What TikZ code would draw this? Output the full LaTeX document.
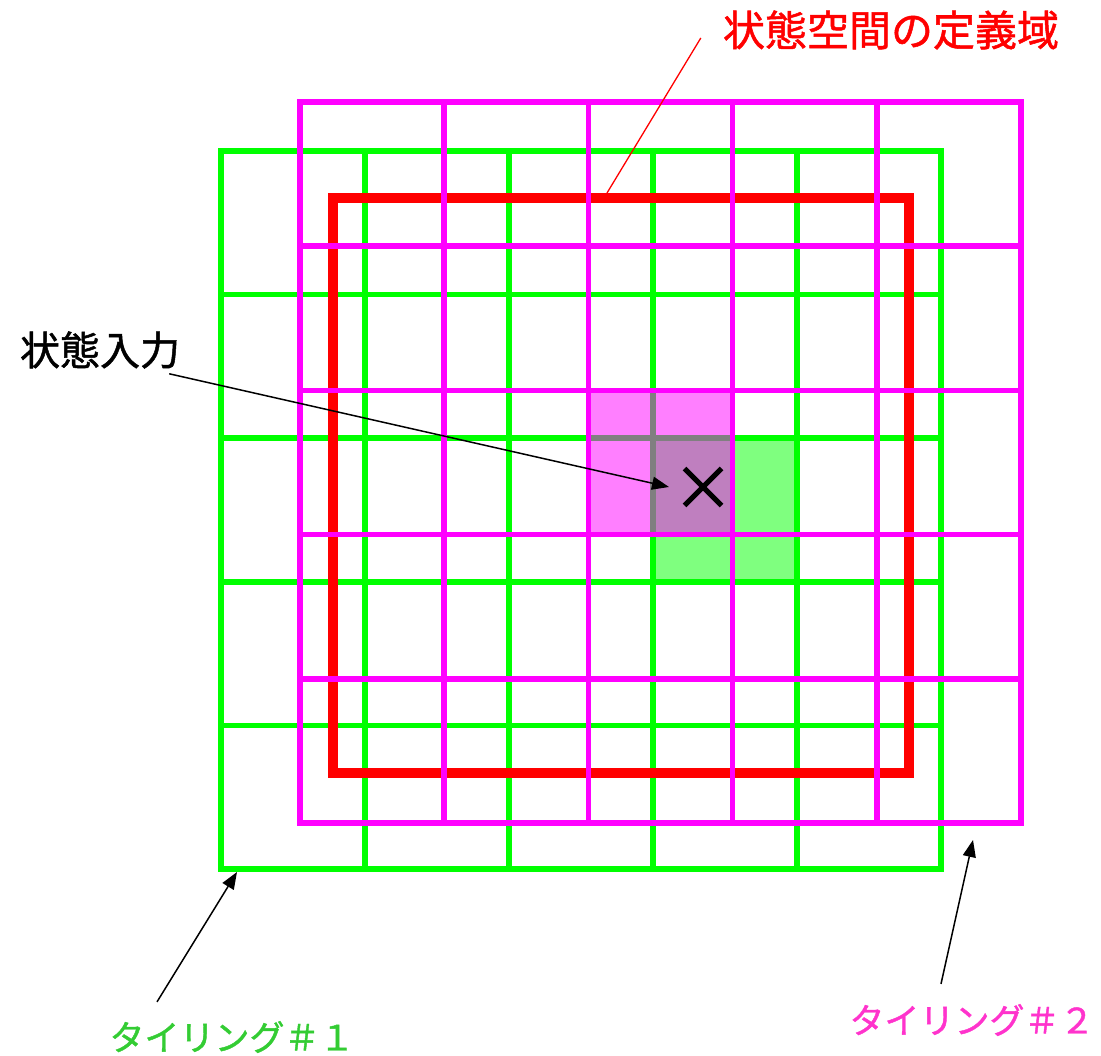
\documentclass[tikz,border=0pt]{standalone}
\usepackage{fontspec}
\newfontfamily\jpfont[FakeBold=1.2]{Noto Sans CJK JP}
\usetikzlibrary{arrows.meta,shapes.misc}
\definecolor{tileone}{RGB}{0,255,0}
\definecolor{tiletwo}{RGB}{255,0,255}
\definecolor{tileonetext}{RGB}{51,204,51}
\definecolor{tiletwotext}{RGB}{255,51,204}
\tikzset{
  jplabel/.style={font=\jpfont\fontsize{40}{44}\selectfont, inner sep=0pt},
  tilelabel/.style={font=\jpfont\fontsize{35}{40}\selectfont, inner sep=0pt},
  gridline/.style={line width=5.5pt, line cap=rect},
  pointer/.style={draw=black, line width=1.5pt, -{Triangle[length=17pt,width=13pt]}},
}
\begin{document}
\begin{tikzpicture}[x=1pt,y=-1pt]
  \useasboundingbox (0,0) rectangle (1101,1056);
  % tiling #1 and its active tile
  \foreach \i in {0,...,5} {
    \draw[gridline, tileone] ({221+144*\i},151) -- ({221+144*\i},869);
    \draw[gridline, tileone] (221,{151+143.6*\i}) -- (941,{151+143.6*\i});
  }
  \fill[tileone, opacity=0.5] (653,438.2) rectangle (797,581.8);
  % state space
  \draw[red, line width=10pt] (333,198) rectangle (909,773);
  % tiling #2 and its active tile
  \fill[tiletwo, opacity=0.5] (588.4,390.4) rectangle (732.6,534.6);
  \foreach \i in {0,...,5} {
    \draw[gridline, tiletwo] ({300+144.2*\i},102) -- ({300+144.2*\i},823);
    \draw[gridline, tiletwo] (300,{102+144.2*\i}) -- (1021,{102+144.2*\i});
  }
  % input point
  \node[cross out, draw, line width=5pt, minimum size=32pt, inner sep=0pt] (input) at (703,487) {};
  \coordinate (inputtip) at (669,487);
  \coordinate (domaintip) at (607,193);
  \coordinate (oneTip) at (237,872);
  \coordinate (twoTip) at (973,840);
  % labels
  \node[jplabel] (inputlabel) at (100,350) {状態入力};
  \node[jplabel, red, font=\jpfont\fontsize{42}{46}\selectfont] (domainlabel) at (891,30) {状態空間の定義域};
  \node[tilelabel, tileonetext] (onelabel) at (232,1037) {タイリング＃１};
  \node[tilelabel, tiletwotext] (twolabel) at (972,1020) {タイリング＃２};
  % connectors
  \draw[pointer] ([shift={(-11,5)}]inputlabel.south east) -- (inputtip);
  \draw[red, line width=1.3pt] ([shift={(-22,8)}]domainlabel.west) -- (domaintip);
  \draw[pointer] ([shift={(-75,-19)}]onelabel.north) -- (oneTip);
  \draw[pointer] ([shift={(-31,-20)}]twolabel.north) -- (twoTip);
\end{tikzpicture}
\end{document}
